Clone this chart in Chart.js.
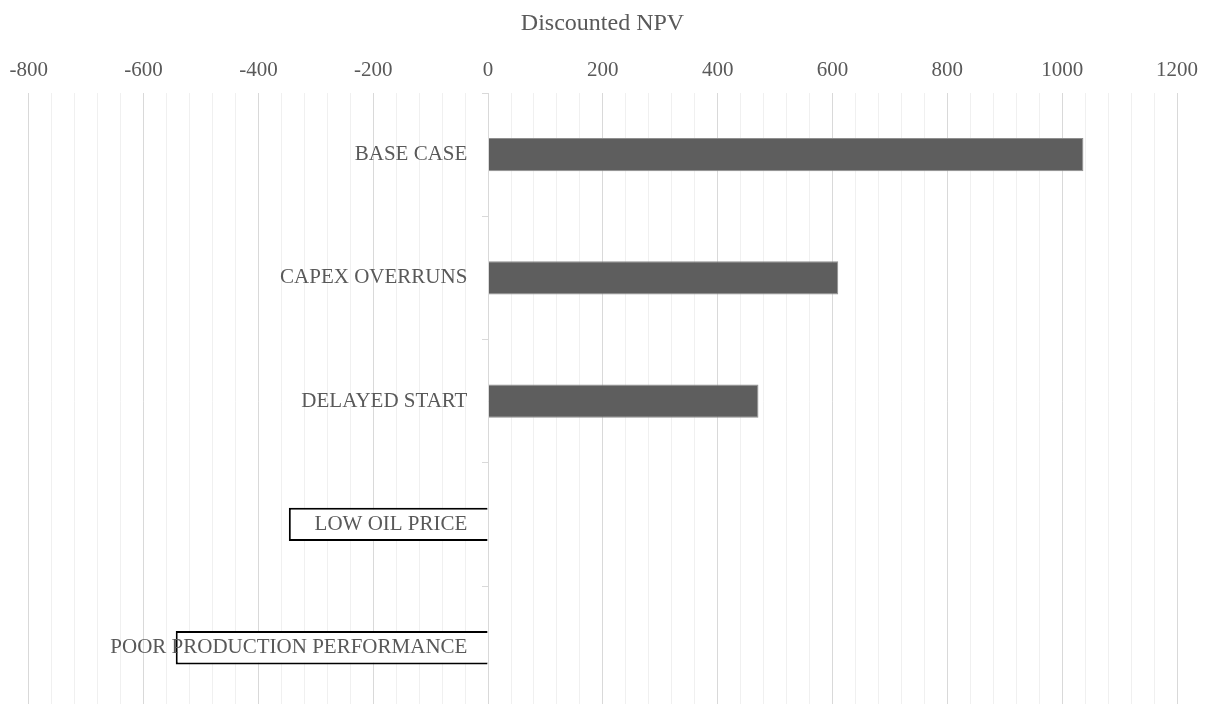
<!DOCTYPE html>
<html>
<head>
    <title>Discounted NPV by Scenario</title>
    <script src="https://cdn.jsdelivr.net/npm/chart.js"></script>
    <style>
        html, body { margin: 0; padding: 0; overflow: hidden; background: #ffffff; }
        #wrap { width: 1211px; height: 722px; }
    </style>
</head>
<body>
    <div id="wrap">
        <canvas id="npvChart"></canvas>
    </div>

    <script>
        // Scenario names and their discounted NPV
        const scenarios = ["BASE CASE", "CAPEX OVERRUNS", "DELAYED START", "LOW OIL PRICE", "POOR PRODUCTION PERFORMANCE"];
        const npvValues = [1037, 610, 471, -347, -544];

        // Labelled values on the NPV axis (minor gridlines every 40)
        const npvTickLabels = [-800, -600, -400, -200, 0, 200, 400, 600, 800, 1000, 1200];
        const minorStep = 40;

        // scenario names sit a little left of the zero line
        const labelAnchor = -36;

        const textColor = "#595959";
        const serif = "'Liberation Serif', 'Times New Roman', serif";

        const ctx = document.getElementById("npvChart").getContext("2d");
        const npvChart = new Chart(ctx, {
            type: "bar",
            data: {
                labels: scenarios,
                datasets: [
                    {
                        label: "Discounted NPV",
                        data: npvValues,
                        yAxisID: "y",
                        // positive scenarios filled dark, negative ones drawn as outlined boxes
                        backgroundColor: npvValues.map(v => v < 0 ? "#ffffff" : "#5e5e5e"),
                        borderColor: npvValues.map(v => v < 0 ? "#000000" : "#8f8f8f"),
                        borderWidth: npvValues.map(v => v < 0 ? 2 : 1),
                        barPercentage: 0.27,
                        categoryPercentage: 1,
                    },
                ],
            },
            options: {
                indexAxis: "y",
                responsive: true,
                maintainAspectRatio: false,
                animation: false,
                layout: {
                    padding: { left: 28, right: 34, top: 0, bottom: 0 },
                },
                plugins: {
                    legend: { display: false },
                    tooltip: { enabled: false },
                    title: {
                        display: true,
                        text: "Discounted NPV",
                        color: textColor,
                        font: { family: serif, size: 24, weight: "normal" },
                        padding: { top: 9, bottom: 11 },
                    },
                },
                scales: {
                    x: {
                        position: "top",
                        min: npvTickLabels[0],
                        max: npvTickLabels[npvTickLabels.length - 1],
                        border: { display: false },
                        grid: {
                            drawTicks: false,
                            color: c => npvTickLabels.includes(c.tick.value) ? "#d9d9d9" : "#f0f0f0",
                            lineWidth: 1,
                        },
                        ticks: {
                            stepSize: minorStep,
                            autoSkip: false,
                            maxRotation: 0,
                            padding: 9.5,
                            color: textColor,
                            font: { family: serif, size: 21 },
                            callback: value => npvTickLabels.includes(value) ? value : "",
                        },
                    },
                    // category names, drawn on top of the bars
                    y: {
                        type: "category",
                        position: { x: labelAnchor },
                        border: { display: false },
                        grid: { display: false },
                        ticks: {
                            z: 1,
                            padding: 0,
                            color: textColor,
                            font: { family: serif, size: 21 },
                        },
                    },
                    // zero line with short tick marks between categories
                    y2: {
                        type: "category",
                        axis: "y",
                        position: { x: 0 },
                        offset: true,
                        border: { display: true, color: "#d9d9d9", width: 1, z: 1 },
                        grid: {
                            offset: true,
                            drawOnChartArea: false,
                            drawTicks: true,
                            tickLength: 6,
                            color: "#d9d9d9",
                        },
                        ticks: { display: false },
                    },
                },
            },
        });
    </script>
</body>
</html>
